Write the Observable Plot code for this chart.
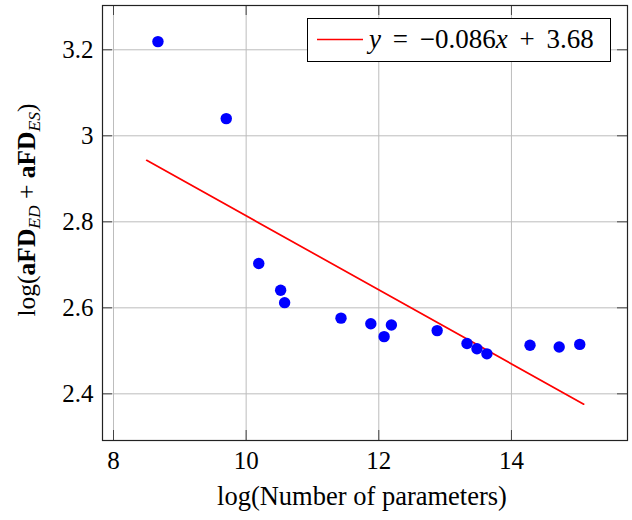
<!DOCTYPE html>
<html><head><meta charset="utf-8">
<script src="https://cdn.jsdelivr.net/npm/d3@7"></script>
<script src="https://cdn.jsdelivr.net/npm/@observablehq/plot@0.6"></script>
<style>
body{margin:0;background:#fff}
#chart{width:632px;height:520px}
#chart svg text{font-family:"Liberation Serif","Times New Roman",serif !important}
</style>
</head><body><div id="chart"></div>
<script>
// Data
const xValues = [8.67, 9.70, 10.19, 10.52, 10.58, 11.43, 11.88, 12.08, 12.19, 12.88, 13.33, 13.48, 13.63, 14.28, 14.72, 15.03];
const yValues = [3.219, 3.040, 2.703, 2.641, 2.612, 2.576, 2.563, 2.533, 2.560, 2.547, 2.517, 2.505, 2.493, 2.513, 2.509, 2.515];
const fitX = [8.5, 15.09];
const fitY = [2.943, 2.376];
const xTicks = [8, 10, 12, 14];
const yTicks = [2.4, 2.6, 2.8, 3, 3.2];
const xDomain = [7.834, 15.75];
const yDomain = [2.2915, 3.303];

const points = xValues.map((x, i) => ({x, y: yValues[i]}));
const fit = fitX.map((x, i) => ({x, y: fitY[i]}));

const W = 632, H = 520;
const mL = 102, mR = 5, mT = 5, mB = 80;
const innerH = H - mT - mB, innerW = W - mL - mR;
const FONT = "Liberation Serif, Times New Roman, serif";
const tickLen = 10;

const svg = Plot.plot({
  width: W, height: H,
  marginLeft: mL, marginRight: mR, marginTop: mT, marginBottom: mB,
  style: {fontFamily: FONT, fontSize: "24px", background: "#fff", color: "#000"},
  x: {domain: xDomain, ticks: xTicks},
  y: {domain: yDomain, ticks: yTicks},
  marks: [
    Plot.gridX(xTicks, {stroke: "#bdbdbd", strokeOpacity: 1, strokeWidth: 1}),
    Plot.gridY(yTicks, {stroke: "#bdbdbd", strokeOpacity: 1, strokeWidth: 1}),
    Plot.tickX(xTicks, {x: d => d, stroke: "#444", insetTop: innerH - tickLen}),
    Plot.tickX(xTicks, {x: d => d, stroke: "#444", insetBottom: innerH - tickLen}),
    Plot.tickY(yTicks, {y: d => d, stroke: "#444", insetRight: innerW - tickLen}),
    Plot.tickY(yTicks, {y: d => d, stroke: "#444", insetLeft: innerW - tickLen}),
    Plot.axisX(xTicks, {tickSize: 0, tickPadding: 11, label: null, tickFormat: d => String(d), fontSize: 25, fontFamily: FONT}),
    Plot.axisY(yTicks, {tickSize: 0, tickPadding: 9, label: null, tickFormat: d => String(d), fontSize: 25, fontFamily: FONT}),
    Plot.line(fit, {x: "x", y: "y", stroke: "#ff0000", strokeWidth: 1.7}),
    Plot.dot(points, {x: "x", y: "y", r: 5.7, fill: "#0000ff", stroke: "none"}),
    Plot.frame({stroke: "#222", strokeWidth: 1.2})
  ]
});

const s = d3.select(svg);

// x-axis label
s.append("text")
  .attr("x", 362).attr("y", 505)
  .attr("text-anchor", "middle")
  .attr("font-family", FONT).attr("font-size", 26.5)
  .text("log(Number of parameters)");

// y-axis label with subscripts
const yl = s.append("text")
  .attr("transform", "translate(35,210) rotate(-90)")
  .attr("text-anchor", "middle")
  .attr("font-family", FONT).attr("font-size", 25.5);
yl.append("tspan").text("log(");
yl.append("tspan").attr("font-weight", "bold").text("aFD");
yl.append("tspan").attr("font-style", "italic").attr("font-size", 17.5).attr("dy", 5).text("ED");
yl.append("tspan").attr("dy", -5).text(" + ");
yl.append("tspan").attr("font-weight", "bold").text("aFD");
yl.append("tspan").attr("font-style", "italic").attr("font-size", 17.5).attr("dy", 5).text("ES");
yl.append("tspan").attr("dy", -5).text(")");

// legend
const lg = s.append("g");
lg.append("rect").attr("x", 307.5).attr("y", 18.5).attr("width", 303).attr("height", 43)
  .attr("fill", "#fff").attr("stroke", "#000").attr("stroke-width", 1);
lg.append("line").attr("x1", 317).attr("x2", 363).attr("y1", 39.5).attr("y2", 39.5)
  .attr("stroke", "#ff0000").attr("stroke-width", 1.7);
const lt = lg.append("text").attr("x", 369).attr("y", 48)
  .attr("text-anchor", "start")
  .attr("font-family", FONT).attr("font-size", 27)
  .attr("word-spacing", 5);
lt.append("tspan").attr("font-style", "italic").text("y");
lt.append("tspan").text(" = −0.086");
lt.append("tspan").attr("font-style", "italic").text("x");
lt.append("tspan").text(" + 3.68");

document.getElementById("chart").appendChild(svg);
</script>
</body></html>
